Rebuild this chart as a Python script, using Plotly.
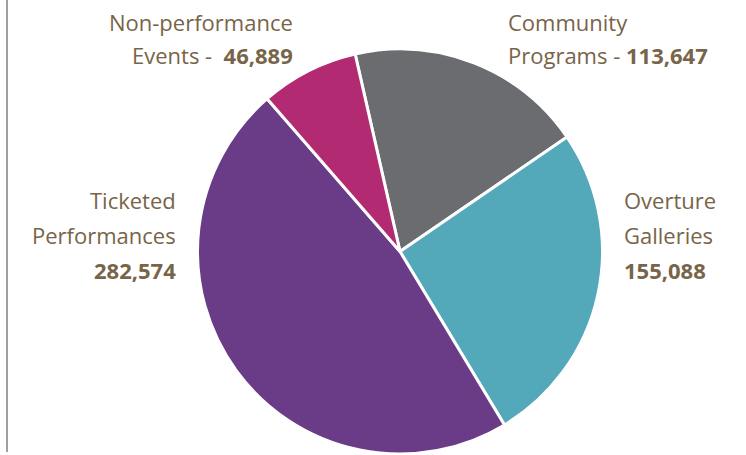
import plotly.graph_objects as go

W, H = 746, 455

categories = ["Community Programs", "Overture Galleries", "Ticketed Performances", "Non-performance Events"]
values = [113647, 155088, 282574, 46889]
colors = ["#6b6c70", "#53a8b9", "#6a3c87", "#b12a72"]

# label lines per category
label_lines = {
    "Non-performance Events": ["Non-performance", "Events -  <b>46,889</b>"],
    "Community Programs": ["Community", "Programs - <b>113,647</b>"],
    "Ticketed Performances": ["Ticketed", "Performances", "<b>282,574</b>"],
    "Overture Galleries": ["Overture", "Galleries", "<b>155,088</b>"],
}

fig = go.Figure(go.Pie(
    labels=categories,
    values=values,
    sort=False,
    direction="clockwise",
    rotation=-12.8,
    marker=dict(colors=colors, line=dict(color="white", width=3)),
    textinfo="none",
    hoverinfo="label+value",
    showlegend=False,
    domain=dict(x=[197 / W, 603 / W], y=[1 - 454 / H, 1 - 49 / H]),
))

TXT = "#786448"
font = dict(family="Open Sans", size=22, color=TXT)

# anchor positions (px): x, first line y, line step, alignment
anchors = {
    "Non-performance Events": (295, 22, 33, "right"),
    "Community Programs": (506, 22, 33, "left"),
    "Ticketed Performances": (178, 200, 35, "right"),
    "Overture Galleries": (622, 200, 35, "left"),
}

anns = []
for cat, lines in label_lines.items():
    x, y0, step, al = anchors[cat]
    for i, txt in enumerate(lines):
        anns.append(dict(
            x=x / W, y=1 - (y0 + i * step) / H, xref="paper", yref="paper",
            text=txt, showarrow=False, xanchor=al, yanchor="middle",
            font=font,
        ))

fig.update_layout(
    width=W, height=H,
    margin=dict(l=0, r=0, t=0, b=0),
    paper_bgcolor="white", plot_bgcolor="white",
    annotations=anns,
    shapes=[dict(type="line", xref="paper", yref="paper",
                 x0=7 / W, x1=7 / W, y0=1 - 452 / H, y1=1,
                 line=dict(color="#a0a0a0", width=2))],
)

fig.write_html("out.html", config={"displayModeBar": False},
               post_script="document.body.style.margin='0';")
